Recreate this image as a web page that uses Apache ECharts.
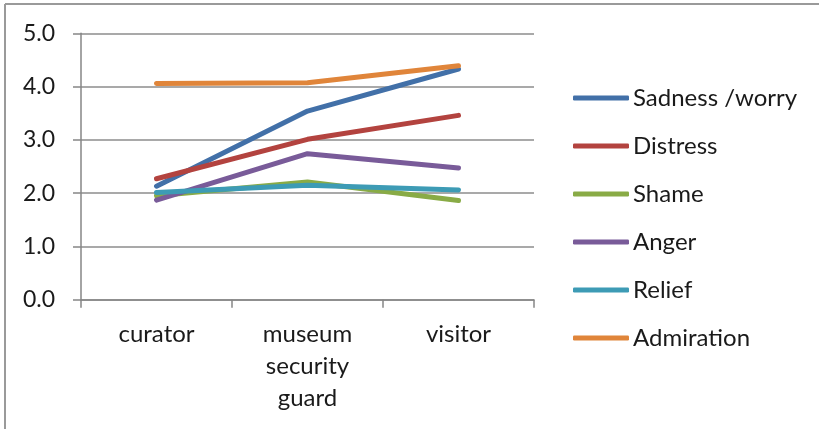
<!DOCTYPE html>
<html>
<head>
<meta charset="utf-8">
<script src="https://cdn.jsdelivr.net/npm/echarts@6/dist/echarts.min.js"></script>
<style>
html,body{margin:0;padding:0;background:#fff;}
#chart{width:819px;height:429px;}
</style>
</head>
<body>
<div id="chart"></div>
<script>
var categories = ['curator', 'museum\nsecurity\nguard', 'visitor'];
var sadness = [2.13, 3.54, 4.33];
var distress = [2.27, 3.01, 3.46];
var shame = [1.95, 2.21, 1.86];
var anger = [1.87, 2.74, 2.47];
var relief = [2.01, 2.15, 2.06];
var admiration = [4.06, 4.07, 4.39];
var yTicks = [0, 1, 2, 3, 4, 5];

var FONT = 'Lato';
var myChart = echarts.init(document.getElementById('chart'));

function mkSeries(name, data, color) {
    return {
        name: name,
        type: 'line',
        data: data,
        showSymbol: false,
        symbol: 'none',
        lineStyle: { width: 5, color: color, cap: 'round' },
        itemStyle: { color: color },
        animation: false
    };
}

var option = {
    backgroundColor: '#fff',
    textStyle: { fontFamily: FONT, color: '#1a1a1a' },
    graphic: [
        { type: 'line', shape: { x1: 5, y1: 4, x2: 819, y2: 4 }, style: { stroke: '#9a9a9a', lineWidth: 2 } },
        { type: 'line', shape: { x1: 5, y1: 4, x2: 5, y2: 429 }, style: { stroke: '#9a9a9a', lineWidth: 2 } }
    ],
    legend: {
        orient: 'vertical',
        left: 573,
        top: 86,
        padding: 0,
        icon: 'roundRect',
        itemWidth: 56,
        itemHeight: 5,
        itemGap: 24,
        textStyle: { fontFamily: FONT, fontSize: 24, color: '#1a1a1a', lineHeight: 24, padding: [0, 0, 0, -1] },
        data: ['Sadness /worry', 'Distress', 'Shame', 'Anger', 'Relief', 'Admiration']
    },
    grid: { left: 81, top: 33.3, right: 285, bottom: 129.3 },
    xAxis: {
        type: 'category',
        data: categories,
        boundaryGap: true,
        axisLine: { lineStyle: { color: '#868686', width: 1.5 } },
        axisTick: { show: true, length: 8, lineStyle: { color: '#868686', width: 1.5 } },
        axisLabel: { fontFamily: FONT, fontSize: 24, color: '#1a1a1a', lineHeight: 32, margin: 19, interval: 0 }
    },
    yAxis: {
        type: 'value',
        min: yTicks[0],
        max: yTicks[yTicks.length - 1],
        interval: 1,
        axisLine: { show: true, lineStyle: { color: '#868686', width: 1.5 } },
        axisTick: { show: true, length: 8, lineStyle: { color: '#868686', width: 1.5 } },
        splitLine: { lineStyle: { color: '#8c8c8c', width: 1.5 } },
        axisLabel: {
            fontFamily: FONT, fontSize: 23, color: '#1a1a1a', margin: 26,
            formatter: function (v) { return v.toFixed(1); }
        }
    },
    series: [
        mkSeries('Sadness /worry', sadness, '#4270a8'),
        mkSeries('Distress', distress, '#b3433f'),
        mkSeries('Shame', shame, '#89ab46'),
        mkSeries('Anger', anger, '#795b99'),
        mkSeries('Relief', relief, '#3d9bb5'),
        mkSeries('Admiration', admiration, '#e0853a')
    ]
};
myChart.setOption(option);
</script>
</body>
</html>
